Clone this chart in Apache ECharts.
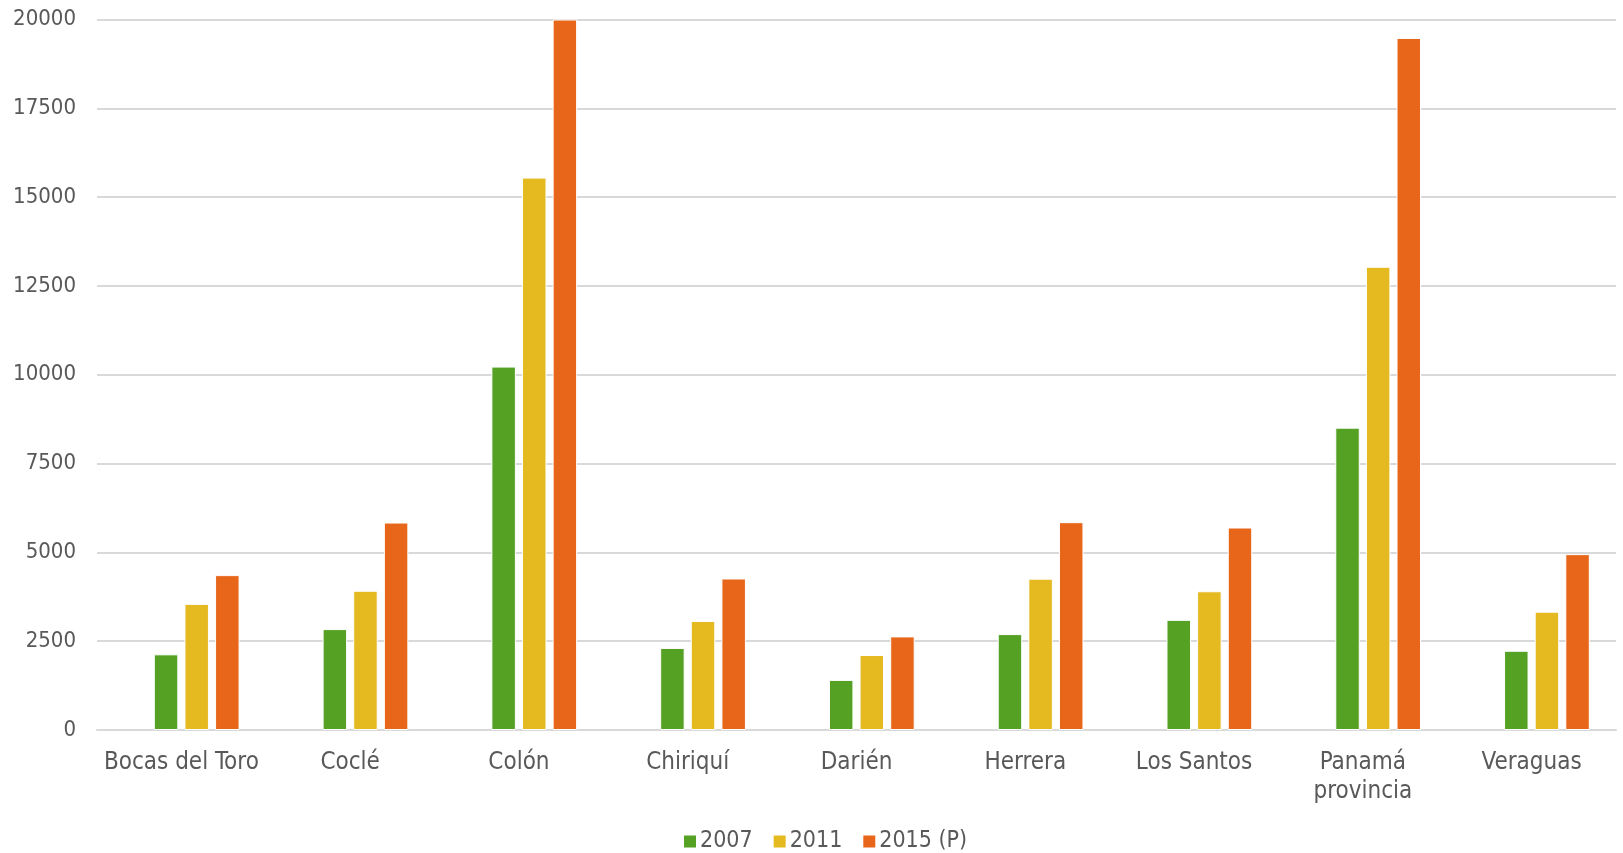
<!DOCTYPE html>
<html><head><meta charset="utf-8">
<script src="https://cdn.jsdelivr.net/npm/echarts@6/dist/echarts.min.js"></script>
<style>html,body{margin:0;padding:0;background:#fff}#c{width:1623px;height:853px}</style>
</head><body><div id="c"></div>
<script>
const categories = ['Bocas del Toro','Coclé','Colón','Chiriquí','Darién','Herrera','Los Santos','Panamá\nprovincia','Veraguas'];
const seriesNames = ['2007','2011','2015 (P)'];
const v2007 = [2130, 2840, 10230, 2310, 1410, 2700, 3100, 8510, 2230];
const v2011 = [3550, 3920, 15550, 3070, 2110, 4260, 3905, 13040, 3330];
const v2015 = [4360, 5840, 20000, 4265, 2635, 5850, 5700, 19480, 4950];
const emptySlot = []; // empty series slot present in the original cluster
const yTicks = {min: 0, max: 20000, interval: 2500};
const colors = ['#55A123', '#E5B920', '#E8661A'];
const font = 'DejaVu Sans Condensed';
const chart = echarts.init(document.getElementById('c'));
const mk = (name, data, i) => ({
  name, type: 'bar', data, barWidth: 24.5, barGap: '25%',
  itemStyle: {color: colors[i], borderColor: '#fff', borderWidth: 1}
});
chart.setOption({
  animation: false,
  textStyle: {fontFamily: font},
  grid: {left: 97, right: 7, top: 19.5, bottom: 123},
  legend: {
    top: 825, left: 677, itemWidth: 14, itemHeight: 14, itemGap: 19,
    icon: 'rect',
    textStyle: {fontFamily: font, fontSize: 23, color: '#595959', padding: [0, 0, 0, -2]},
    data: seriesNames
  },
  xAxis: {
    type: 'category', data: categories,
    axisLine: {lineStyle: {color: '#d9d9d9', width: 2}},
    axisTick: {show: false},
    axisLabel: {fontFamily: font, fontSize: 24, color: '#595959', margin: 18, lineHeight: 29, interval: 0}
  },
  yAxis: {
    type: 'value', min: yTicks.min, max: yTicks.max, interval: yTicks.interval,
    axisLine: {show: false}, axisTick: {show: false},
    splitLine: {lineStyle: {color: '#d9d9d9', width: 2}},
    axisLabel: {fontFamily: font, fontSize: 22, color: '#595959', margin: 21, formatter: v => String(v)}
  },
  series: [
    {name: '', type: 'bar', data: emptySlot, barWidth: 24.5, barGap: '25%'},
    mk(seriesNames[0], v2007, 0), mk(seriesNames[1], v2011, 1), mk(seriesNames[2], v2015, 2)
  ]
});
</script></body></html>
